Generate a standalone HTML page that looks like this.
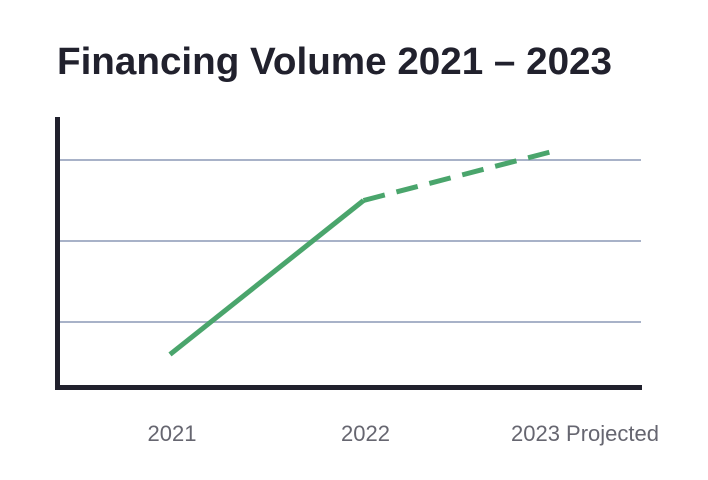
<!DOCTYPE html>
<html><head><meta charset="utf-8"><style>
html,body{margin:0;padding:0;background:#fff;}
svg{display:block;font-family:"Liberation Sans",sans-serif;}
</style></head><body>
<svg width="708" height="480" viewBox="0 0 708 480">
<text x="57" y="74" font-size="38" font-weight="bold" fill="#21212d" textLength="555" lengthAdjust="spacingAndGlyphs">Financing Volume 2021 – 2023</text>
<g id="grid"></g>
<rect x="55" y="117" width="5" height="273" fill="#21212d"/>
<rect x="55" y="385" width="587" height="5" fill="#21212d"/>
<g id="series"></g>
<g id="labels"></g>
</svg>
<script>
const categories = ["2021", "2022", "2023 Projected"];
const values = [0.6, 2.5, 3.12];
const gridValues = [1, 2, 3];
const projectedFrom = 1;

const NS = "http://www.w3.org/2000/svg";
function xScale(i){ return 170 + i * 193.5; }
function yScale(v){ return 403 - 81 * v; }

const grid = document.getElementById("grid");
gridValues.forEach(g => {
  const l = document.createElementNS(NS, "line");
  l.setAttribute("x1", 60); l.setAttribute("x2", 641);
  l.setAttribute("y1", yScale(g)); l.setAttribute("y2", yScale(g));
  l.setAttribute("stroke", "#a8b2c8"); l.setAttribute("stroke-width", 2);
  
  
  grid.appendChild(l);
});

const series = document.getElementById("series");
for (let i = 0; i < values.length - 1; i++) {
  const l = document.createElementNS(NS, "line");
  l.setAttribute("x1", xScale(i)); l.setAttribute("y1", yScale(values[i]));
  l.setAttribute("x2", xScale(i+1)); l.setAttribute("y2", yScale(values[i+1]));
  l.setAttribute("stroke", "#4aa56c"); l.setAttribute("stroke-width", 5);
  l.setAttribute("stroke-linecap", "butt");
  if (i >= projectedFrom) l.setAttribute("stroke-dasharray", "22 12");
  
  
  series.appendChild(l);
}

const labels = document.getElementById("labels");
categories.forEach((c, i) => {
  const t = document.createElementNS(NS, "text");
  const last = i === categories.length - 1;
  t.setAttribute("x", last ? 659 : xScale(i) + 2);
  t.setAttribute("y", 441);
  t.setAttribute("text-anchor", last ? "end" : "middle");
  t.setAttribute("font-size", 22);
  t.setAttribute("fill", "#666670");
  t.textContent = c;
  
  
  labels.appendChild(t);
});
</script>
</body></html>
